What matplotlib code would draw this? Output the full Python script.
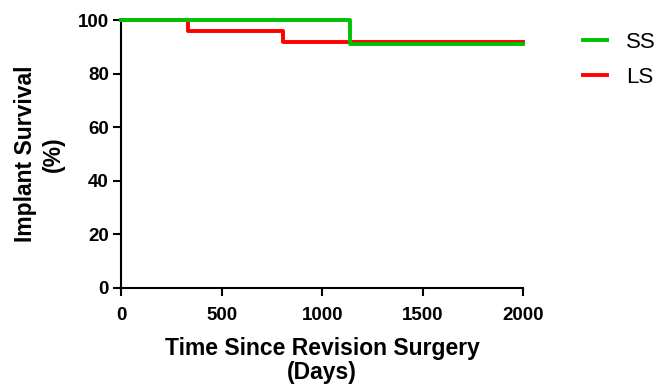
import matplotlib
matplotlib.use("Agg")
from matplotlib import pyplot as plt

plt.rcParams['font.family'] = ['Liberation Sans', 'DejaVu Sans']

# Kaplan-Meier style survival steps (days, %)
ss_days = [0, 1140, 2000]
ss_surv = [100, 90.9, 90.9]
ls_days = [0, 330, 806, 2000]
ls_surv = [100, 96, 92, 92]

fig = plt.figure(figsize=(6.59, 3.86), dpi=100)
ax = fig.add_axes([0.184, 0.254, 0.610, 0.694])

ax.step(ls_days, ls_surv, where='post', color='#ff0000', lw=2.8, label='LS',
        zorder=2, clip_on=False)
ax.step(ss_days, ss_surv, where='post', color='#00c000', lw=2.8, label='SS',
        zorder=3, clip_on=False)

ax.set_xlim(0, 2000)
ax.set_ylim(0, 100)
ax.set_xticks([0, 500, 1000, 1500, 2000])
ax.set_yticks([0, 20, 40, 60, 80, 100])
for s in ['top', 'right']:
    ax.spines[s].set_visible(False)
for s in ['left', 'bottom']:
    ax.spines[s].set_linewidth(1.5)
ax.tick_params(width=1.5, length=6, labelsize=13.5)
ax.tick_params(axis='x', pad=8)
ax.tick_params(axis='y', pad=3)
for lab in ax.get_xticklabels() + ax.get_yticklabels():
    lab.set_fontweight('bold')

ax.set_xlabel('Time Since Revision Surgery\n(Days)', fontsize=16.5, fontweight='bold',
              labelpad=9, linespacing=1.05)
ax.set_ylabel('Implant Survival\n(%)', fontsize=16.5, fontweight='bold', labelpad=9,
              linespacing=1.3)

handles, labels = ax.get_legend_handles_labels()
ax.legend(handles[::-1], labels[::-1], loc='upper left', bbox_to_anchor=(1.1, 1.03),
          frameon=False, fontsize=16, handlelength=1.05, labelspacing=0.62,
          handletextpad=0.85)

fig.savefig('out.png', dpi=100)
